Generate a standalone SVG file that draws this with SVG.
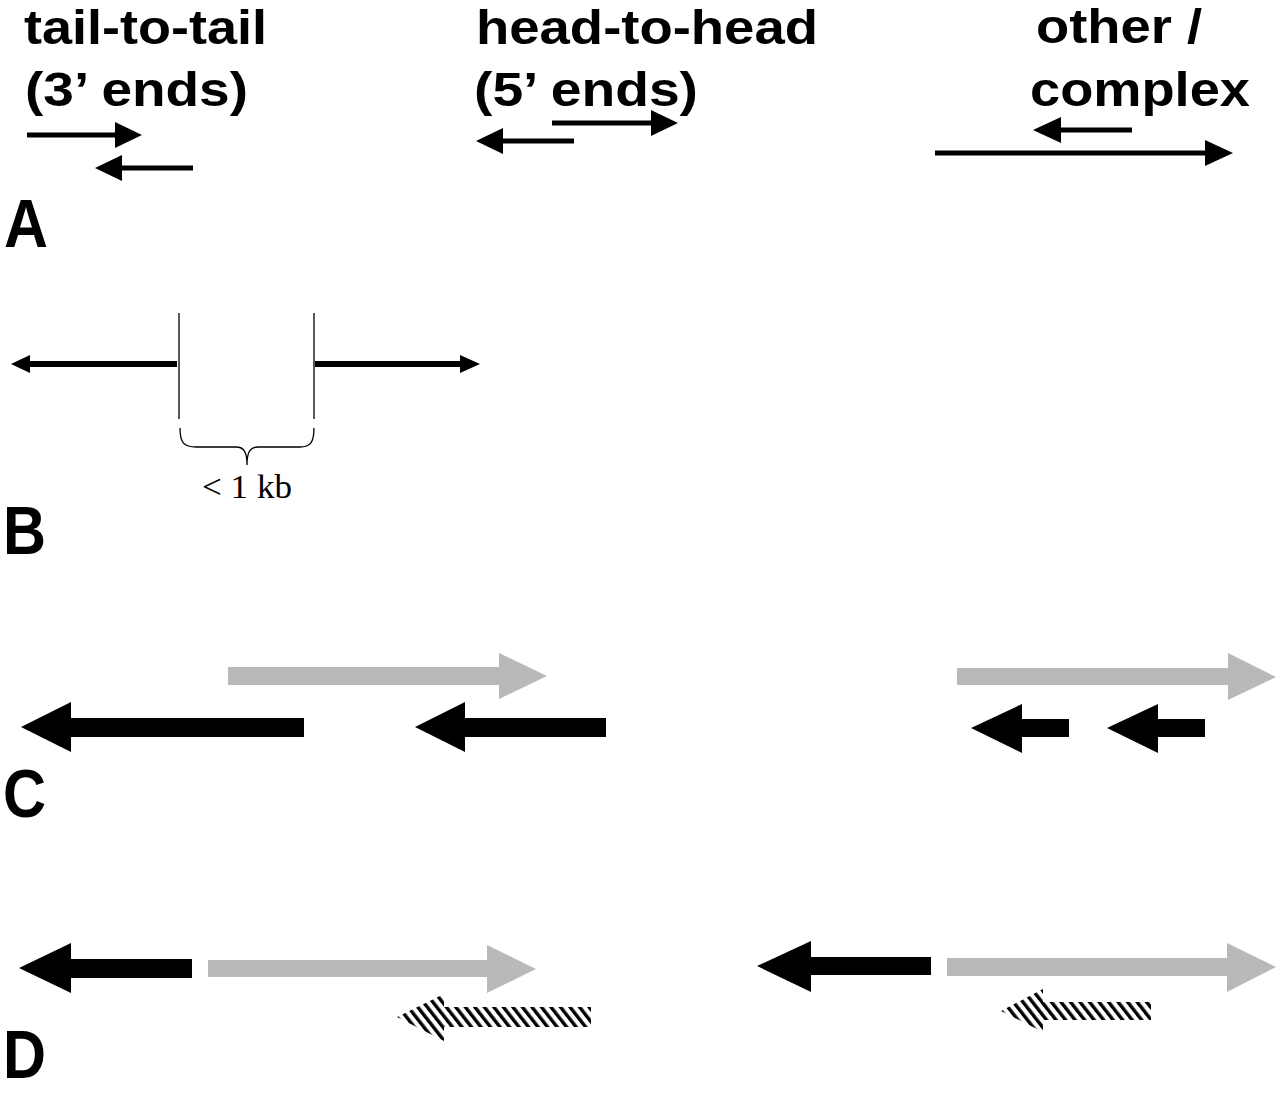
<svg xmlns="http://www.w3.org/2000/svg" width="1280" height="1093" viewBox="0 0 1280 1093">
<defs>
<style>
.hdr{font-family:"Liberation Sans",Arial,sans-serif;font-weight:bold;font-size:48px;fill:#000}
.lbl{font-family:"Liberation Sans",Arial,sans-serif;font-weight:bold;font-size:68px;fill:#000}
.tms{font-family:"Liberation Serif","Times New Roman",serif;font-size:34px;fill:#000}
.blk{fill:#000}
.gry{fill:#b9b9b9}
.hat{fill:url(#hatch)}
.thin{stroke:#000;stroke-width:1.3;fill:none}
</style>
<pattern id="hatch" patternUnits="userSpaceOnUse" width="7.5" height="7.5" patternTransform="rotate(-38)">
<rect x="0" y="0" width="3.4" height="7.5" fill="#000"/>
</pattern>
</defs>
<rect width="1280" height="1093" fill="#fff"/>

<g id="headers">
<text class="hdr" x="24" y="43.5" textLength="243" lengthAdjust="spacingAndGlyphs">tail-to-tail</text>
<text class="hdr" x="25" y="106" textLength="223" lengthAdjust="spacingAndGlyphs">(3’ ends)</text>
<text class="hdr" x="476" y="43.5" textLength="342" lengthAdjust="spacingAndGlyphs">head-to-head</text>
<text class="hdr" x="474" y="106" textLength="224" lengthAdjust="spacingAndGlyphs">(5’ ends)</text>
<text class="hdr" x="1036" y="43" textLength="166" lengthAdjust="spacingAndGlyphs">other /</text>
<text class="hdr" x="1030" y="106" textLength="220" lengthAdjust="spacingAndGlyphs">complex</text>
</g>

<g id="labels">
<text class="lbl" x="4" y="247" textLength="44" lengthAdjust="spacingAndGlyphs">A</text>
<text class="lbl" x="3" y="554" textLength="43" lengthAdjust="spacingAndGlyphs">B</text>
<text class="lbl" x="3" y="817" textLength="43" lengthAdjust="spacingAndGlyphs">C</text>
<text class="lbl" x="3" y="1078" textLength="43" lengthAdjust="spacingAndGlyphs">D</text>
</g>

<g id="panelA">
<polygon class="blk" points="27,132.5 115,132.5 115,122 142,135 115,148 115,137.5 27,137.5"/>
<polygon class="blk" points="193,165.5 122,165.5 122,155 95,168 122,181 122,170.5 193,170.5"/>
<polygon class="blk" points="574,138.5 503,138.5 503,128 476,141 503,154 503,143.5 574,143.5"/>
<polygon class="blk" points="552,120.5 651,120.5 651,110 678,123 651,136 651,125.5 552,125.5"/>
<polygon class="blk" points="1132,127.5 1061,127.5 1061,117 1033,130 1061,143 1061,132.5 1132,132.5"/>
<polygon class="blk" points="935,150.5 1205,150.5 1205,140 1233,153 1205,166 1205,155.5 935,155.5"/>
</g>

<g id="panelB">
<polygon class="blk" points="177,361 30,361 30,355 11,364 30,373 30,367 177,367"/>
<polygon class="blk" points="315,361 460,361 460,355 480,364 460,373 460,367 315,367"/>
<line class="thin" x1="179" y1="313" x2="179" y2="419"/>
<line class="thin" x1="314" y1="313" x2="314" y2="419"/>
<path class="thin" d="M180,428 C180,443 184,447 196,447 L236,447 C244,447 247,452 247,465 C247,452 250,447 258,447 L300,447 C310,447 314,443 314,428"/>
<text class="tms" x="202" y="498" textLength="90" lengthAdjust="spacingAndGlyphs">&lt; 1 kb</text>
</g>

<g id="panelC">
<polygon class="gry" points="228,667 499,667 499,653 547,676 499,699 499,685 228,685"/>
<polygon class="blk" points="304,718 71,718 71,702 21,727 71,752 71,737 304,737"/>
<polygon class="blk" points="606,718 465,718 465,702 415,727 465,752 465,737 606,737"/>
<polygon class="gry" points="957,668 1228,668 1228,653 1276,677 1228,700 1228,685 957,685"/>
<polygon class="blk" points="1069,719 1022,719 1022,704 971,728 1022,753 1022,737 1069,737"/>
<polygon class="blk" points="1205,719 1158,719 1158,704 1107,728 1158,753 1158,737 1205,737"/>
</g>

<g id="panelD">
<polygon class="blk" points="192,959 71,959 71,943 19,968 71,993 71,978 192,978"/>
<polygon class="gry" points="208,960 487,960 487,945 536,969 487,993 487,977 208,977"/>
<polygon class="hat" points="591,1007 444,1007 444,994 397,1017 444,1041 444,1027 591,1027"/>
<polygon class="blk" points="931,957 811,957 811,941 757,966 811,992 811,975 931,975"/>
<polygon class="gry" points="947,958 1227,958 1227,943 1276,967 1227,992 1227,976 947,976"/>
<polygon class="hat" points="1151,1002 1043,1002 1043,989 1001,1011 1043,1032 1043,1020 1151,1020"/>
</g>
</svg>
